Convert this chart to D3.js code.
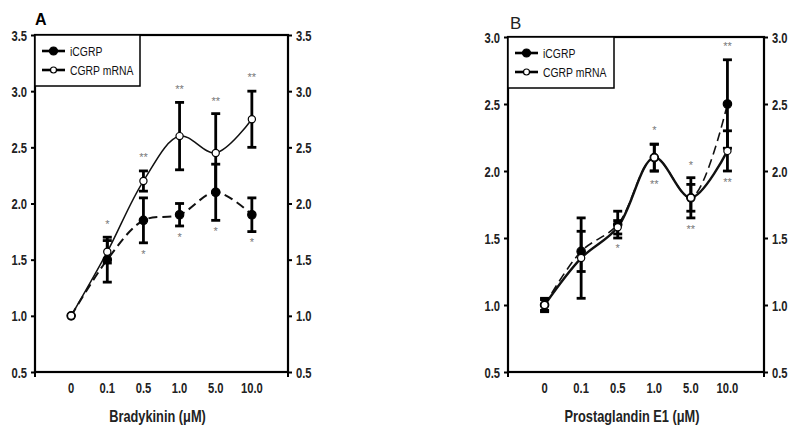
<!DOCTYPE html>
<html><head><meta charset="utf-8">
<script src="https://cdn.jsdelivr.net/npm/d3@7"></script>
<style>
body{margin:0;background:#fff;}
svg{display:block;}
text{font-family:"Liberation Sans","Arial",sans-serif;}
</style></head>
<body><svg id="c" width="800" height="433"></svg>
<script>
// ---- data ----
const categories = ["0","0.1","0.5","1.0","5.0","10.0"];
const seriesNames = ["iCGRP","CGRP mRNA"];

// Panel A: Bradykinin
const aTicks = [0.5,1.0,1.5,2.0,2.5,3.0,3.5];
const aIcgrp = [1.0,1.5,1.85,1.9,2.1,1.9];
const aIcgrpErr = [0.02,0.2,0.2,0.1,0.25,0.15];
const aMrna = [1.0,1.57,2.2,2.6,2.45,2.75];
const aMrnaErr = [0.02,0.1,0.09,0.3,0.35,0.25];
const aStars = [[1,1.835,"*"],[2,2.43,"**"],[3,3.04,"**"],[4,2.93,"**"],[5,3.14,"**"],
                [2,1.57,"*"],[3,1.72,"*"],[4,1.77,"*"],[5,1.675,"*"]];

// Panel B: Prostaglandin E1
const bTicks = [0.5,1.0,1.5,2.0,2.5,3.0];
const bIcgrp = [1.0,1.4,1.6,2.1,1.8,2.5];
const bIcgrpErr = [0.04,0.15,0.1,0.1,0.1,0.33];
const bMrna = [1.0,1.35,1.58,2.1,1.8,2.15];
const bMrnaErr = [0.05,0.3,0.05,0.1,0.15,0.15];
const bStars = [[2,1.44,"*"],[3,2.32,"*"],[3,1.92,"**"],[4,2.06,"*"],[4,1.58,"**"],[5,2.95,"**"],[5,1.93,"**"]];

const panels = [
  {label:"A", title:"Bradykinin (\u03bcM)", ticks:aTicks, dom:[0.5,3.5],
   ic:aIcgrp, icE:aIcgrpErr, mr:aMrna, mrE:aMrnaErr, stars:aStars,
   L:35, R:288, T:35, B:372, legW:105, legH:51, icW:2, mrW:1.5},
  {label:"B", title:"Prostaglandin E1 (\u03bcM)", ticks:bTicks, dom:[0.5,3.0],
   ic:bIcgrp, icE:bIcgrpErr, mr:bMrna, mrE:bMrnaErr, stars:bStars,
   L:508, R:764, T:37, B:372, legW:106, legH:51, icW:1.6, mrW:2.4}
];

const SX = 0.8; // narrow text
function txt(g, x, y, s, anchor, size, weight, fill){
  return g.append("text").attr("transform",`translate(${x},${y}) scale(${SX},1)`)
    .attr("text-anchor",anchor).attr("font-size",size).attr("font-weight",weight||"normal")
    .attr("fill",fill||"#111").text(s);
}

const svg = d3.select("#c");

panels.forEach((p,pi)=>{
  const g = svg.append("g");
  const x = d3.scaleLinear().domain([-1,categories.length]).range([p.L,p.R]);
  const y = d3.scaleLinear().domain(p.dom).range([p.B,p.T]);

  g.append("rect").attr("x",p.L).attr("y",p.T).attr("width",p.R-p.L).attr("height",p.B-p.T)
    .attr("fill","none").attr("stroke","#000").attr("stroke-width",2.2);

  const yl = g.append("g").attr("transform",`translate(${p.L},0)`)
    .call(d3.axisLeft(y).tickValues(p.ticks).tickFormat(d3.format(".1f")).tickSize(4).tickPadding(3));
  const yr = g.append("g").attr("transform",`translate(${p.R},0)`)
    .call(d3.axisRight(y).tickValues(p.ticks).tickFormat(d3.format(".1f")).tickSize(4).tickPadding(3));
  [yl,yr].forEach((a,k)=>{
    a.select(".domain").remove();
    a.selectAll("line").attr("stroke","#000").attr("stroke-width",2);
    a.selectAll(".tick").each(function(){
      const t = d3.select(this).select("text");
      const s = t.text();
      t.remove();
      txt(d3.select(this), k? 8 : -8, 5, s, k?"start":"end", 14, "bold", "#222");
    });
  });

  g.selectAll(".endtick").data([p.L,p.R]).enter().append("line")
    .attr("x1",d=>d).attr("x2",d=>d).attr("y1",p.B).attr("y2",p.B+5)
    .attr("stroke","#000").attr("stroke-width",2);
  categories.forEach((c,i)=>txt(g, x(i), p.B+21, c, "middle", 14, "bold", "#222"));

  txt(g, (p.L+p.R)/2-4, p.B+50, p.title, "middle", 16, "bold", "#222");

  if(pi===0){
    g.append("text").attr("x",p.L+0).attr("y",p.T-10).attr("font-size",16).attr("font-weight","bold").text(p.label);
  } else {
    g.append("text").attr("x",p.L+2).attr("y",p.T-8).attr("font-size",17).attr("fill","#222").text(p.label);
  }

  const series = [
    {v:p.ic, e:p.icE, filled:true, dash:"9,5", w:p.icW},
    {v:p.mr, e:p.mrE, filled:false, dash:null, w:p.mrW}
  ];
  const line = d3.line().x((d,i)=>x(i)).y(d=>y(d)).curve(d3.curveCatmullRom.alpha(0.5));

  series.forEach(s=>{
    g.append("path").attr("d",line(s.v)).attr("fill","none").attr("stroke","#111")
      .attr("stroke-width",s.w).attr("stroke-dasharray",s.dash);
  });
  series.forEach(s=>{
    const eg = g.append("g");
    s.v.forEach((v,i)=>{
      if(s.e[i]<0.04) return;
      const cx=x(i), y1=y(v+s.e[i]), y2=y(v-s.e[i]);
      eg.append("line").attr("x1",cx).attr("x2",cx).attr("y1",y1).attr("y2",y2).attr("stroke","#000").attr("stroke-width",2.8);
      [y1,y2].forEach(yy=>eg.append("line").attr("x1",cx-4.5).attr("x2",cx+4.5).attr("y1",yy).attr("y2",yy)
        .attr("stroke","#000").attr("stroke-width",2.8));
    });
  });
  series.forEach(s=>{
    g.selectAll(null).data(s.v).enter().append("circle")
      .attr("cx",(d,i)=>x(i)).attr("cy",d=>y(d)).attr("r",s.filled?4.2:3.6)
      .attr("fill",s.filled?"#000":"#fff").attr("stroke","#000").attr("stroke-width",1.2);
  });
  g.selectAll(null).data(p.stars).enter().append("text")
    .attr("x",d=>x(d[0])).attr("y",d=>y(d[1])+6).attr("text-anchor","middle")
    .attr("font-size",11).attr("fill","#777").text(d=>d[2]);

  const lg = g.append("g");
  lg.append("rect").attr("x",p.L).attr("y",p.T).attr("width",p.legW).attr("height",p.legH)
    .attr("fill","#fff").attr("stroke","#000").attr("stroke-width",1.5);
  seriesNames.forEach((n,k)=>{
    const yy = p.T + 16 + k*19;
    const x0 = p.L+7;
    lg.append("line").attr("x1",x0).attr("x2",x0+23).attr("y1",yy).attr("y2",yy).attr("stroke","#000").attr("stroke-width",2.6);
    lg.append("circle").attr("cx",x0+11.5).attr("cy",yy).attr("r",k?3:4)
      .attr("fill",k?"#fff":"#000").attr("stroke","#000").attr("stroke-width",1.2);
    txt(lg, x0+28, yy+4.5, n, "start", 13, "normal", "#111");
  });
});
</script></body></html>
